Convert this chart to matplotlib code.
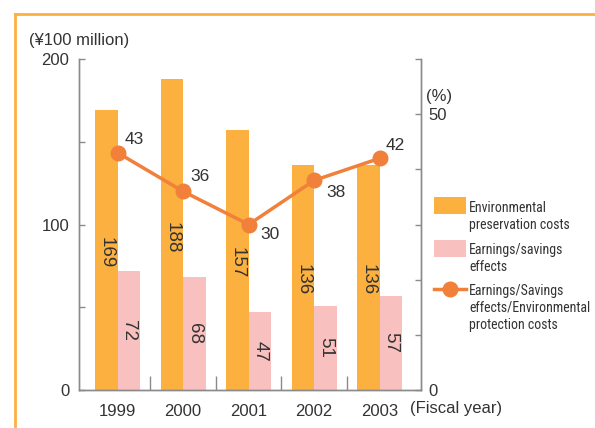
import matplotlib
matplotlib.use('Agg')
import matplotlib.pyplot as plt
import numpy as np
from matplotlib.lines import Line2D
from matplotlib.patches import Rectangle

years = ['1999', '2000', '2001', '2002', '2003']
preservation_costs = [169, 188, 157, 136, 136]
savings_effects = [72, 68, 47, 51, 57]
ratio_pct = [43, 36, 30, 38, 42]

ORANGE = '#FBB040'
PINK = '#F9C0C0'
LINE = '#F0803A'
GREY = '#8A8A8A'
TXT = '#333333'

plt.rcParams['font.family'] = ['Liberation Sans', 'DejaVu Sans']
NARROW = ['Roboto Condensed', 'Liberation Sans', 'DejaVu Sans']

W, H = 595, 428


def fx(px):
    return px / W


def fy(py):
    return 1 - py / H


fig = plt.figure(figsize=(5.95, 4.28), dpi=100)
ax = fig.add_axes([fx(79), fy(390), (421 - 79) / W, (390 - 59) / H])
ax2 = ax.twinx()

x = np.arange(len(years))
bw = 0.345
ax.bar(x - bw / 2, preservation_costs, bw, color=ORANGE, zorder=2)
ax.bar(x + bw / 2, savings_effects, bw, color=PINK, zorder=2)

for xi, v in zip(x, preservation_costs):
    ax.text(xi - bw / 2, v * 0.49, str(v), rotation=270, ha='center', va='center',
            fontsize=13.5, color=TXT, zorder=3)
for xi, v in zip(x, savings_effects):
    ax.text(xi + bw / 2, v * 0.5, str(v), rotation=270, ha='center', va='center',
            fontsize=13.5, color=TXT, zorder=3)

ax.set_xlim(-0.59, 4.63)
ax.set_ylim(0, 200)
ax2.set_ylim(0, 60)

ax2.plot(x, ratio_pct, color=LINE, lw=2.5, marker='o', ms=10.5, zorder=4)
offsets = [(12, 9.5), (12, 10.5), (15, -7), (16, -9), (11.5, 9)]
for xi, v, off in zip(x, ratio_pct, offsets):
    ax2.annotate(str(v), (xi, v), xytext=off, textcoords='offset points',
                 ha='center', va='center', fontsize=12.5, color=TXT)

# axes styling
for a in (ax, ax2):
    a.spines['top'].set_visible(False)
    for s in ('left', 'right', 'bottom'):
        a.spines[s].set_color(GREY)
        a.spines[s].set_linewidth(1.0)
ax.patch.set_alpha(0)

ax.set_xticks(x)
ax.set_xticklabels(years, fontsize=12, color=TXT)
ax.set_xticks(x[:-1] + 0.5, minor=True)
ax.tick_params(axis='x', which='major', length=0, pad=10)
ax.tick_params(axis='x', which='minor', direction='in', length=10, color=GREY, width=1)

ax.set_yticks([0, 50, 100, 150, 200])
ax.set_yticklabels(['0', '', '100', '', '200'], fontsize=12, color=TXT)
ax.tick_params(axis='y', direction='in', length=4, color=GREY, width=1, pad=7)

ax2.set_yticks([0, 10, 20, 30, 40, 50, 60])
ax2.set_yticklabels(['0', '', '', '', '', '50', ''], fontsize=12, color=TXT)
ax2.tick_params(axis='y', direction='in', length=4, color=GREY, width=1, pad=5)

fig.text(fx(29), fy(40), '(\u00a5100 million)', fontsize=12, color=TXT, va='center', ha='left')
fig.text(fx(426), fy(97), '(%)', fontsize=12, color=TXT, va='center', ha='left')
fig.text(fx(410), fy(409), '(Fiscal year)', fontsize=12, color=TXT, va='center', ha='left')

# legend, drawn by hand so each key sits beside the first line of its label
legend_items = [
    ('patch', ORANGE, 206, ['Environmental', 'preservation costs']),
    ('patch', PINK, 248, ['Earnings/savings', 'effects']),
    ('line', LINE, 289, ['Earnings/Savings', 'effects/Environmental', 'protection costs']),
]
for kind, color, yc, lines in legend_items:
    if kind == 'patch':
        fig.add_artist(Rectangle((fx(434), fy(yc + 8.5)), 32 / W, 17 / H,
                                 transform=fig.transFigure, facecolor=color, edgecolor='none'))
    else:
        fig.add_artist(Line2D([fx(434), fx(466)], [fy(yc), fy(yc)], color=color, lw=2.5))
        fig.add_artist(Line2D([fx(450)], [fy(yc)], color=color, marker='o', ms=10.5))
    for k, s in enumerate(lines):
        fig.text(fx(469), fy(yc + 2 + 17 * k), s, family=NARROW, fontsize=10,
                 color=TXT, va='center', ha='left')

# frame around the panel
fig.add_artist(Line2D([fx(15), 1], [fy(14), fy(14)], color=ORANGE, lw=2))
fig.add_artist(Line2D([fx(15), fx(15)], [0, fy(14)], color=ORANGE, lw=2))

fig.savefig('out.png', dpi=100)
